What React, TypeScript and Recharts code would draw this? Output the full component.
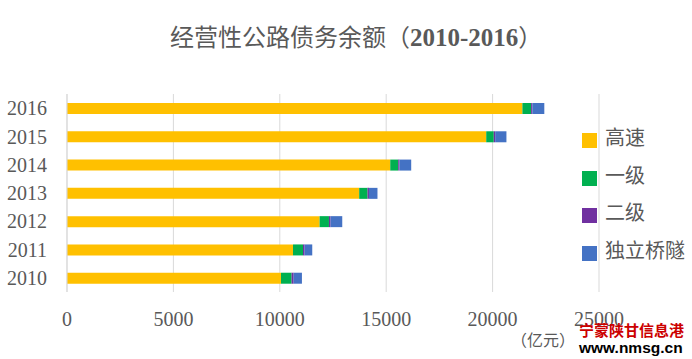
import React from 'react';
import { BarChart, Bar, XAxis, YAxis, CartesianGrid } from 'recharts';

const years = ['2010', '2011', '2012', '2013', '2014', '2015', '2016'];
const gaosu = [10055, 10620, 11870, 13730, 15190, 19700, 21400];
const yiji = [500, 470, 440, 395, 375, 355, 410];
const erji = [95, 75, 75, 65, 60, 65, 60];
const duli = [390, 360, 550, 400, 550, 530, 560];
const xTicks = [0, 5000, 10000, 15000, 20000, 25000];

const seriesNames = ['高速', '一级', '二级', '独立桥隧'];
const seriesColors = ['#FFC000', '#00B050', '#7030A0', '#4472C4'];
const seriesValues = [gaosu, yiji, erji, duli];

const data = years.map((year, i) => {
  const row: any = { year };
  seriesNames.forEach((name, s) => {
    row[name] = seriesValues[s][i];
  });
  return row;
});

const serif = '"Liberation Serif", "Times New Roman", serif';
const cjk = '"Noto Sans CJK SC", sans-serif';
const gray = '#595959';

export default function App() {
  return (
    <div style={{ position: 'absolute', left: 0, top: 0, width: 692, height: 359, background: '#fff', overflow: 'hidden' }}>
      <div style={{ position: 'absolute', left: 170, top: 23, fontSize: 24, lineHeight: '26px', color: gray, fontFamily: cjk, whiteSpace: 'nowrap' }}>
        经营性公路债务余额（<span style={{ fontFamily: serif, fontWeight: 'bold', fontSize: 25 }}>2010-2016</span>）
      </div>
      <BarChart
        width={692}
        height={359}
        data={data}
        layout="vertical"
        margin={{ top: 94, right: 93, bottom: 27, left: 0 }}
        barSize={11}
      >
        <CartesianGrid horizontal={false} stroke="#d9d9d9" />
        <XAxis
          type="number"
          domain={[0, 25000]}
          ticks={xTicks}
          interval={0}
          axisLine={false}
          tickLine={false}
          tickSize={0}
          tickMargin={20}
          height={40}
          tick={{ fill: gray, fontSize: 20, fontFamily: serif }}
        />
        <YAxis
          type="category"
          dataKey="year"
          reversed
          width={67}
          interval={0}
          tickLine={false}
          tickSize={0}
          tickMargin={20}
          axisLine={{ stroke: '#d9d9d9' }}
          tick={{ fill: gray, fontSize: 20, fontFamily: serif }}
        />
        {seriesNames.map((name, s) => (
          <Bar key={name} dataKey={name} stackId="a" fill={seriesColors[s]} isAnimationActive={false} />
        ))}
      </BarChart>
      <div style={{ position: 'absolute', left: 582, top: 122 }}>
        {seriesNames.map((name, s) => (
          <div key={name} style={{ display: 'flex', alignItems: 'flex-start', height: 37.5 }}>
            <span style={{ width: 15, height: 15, background: seriesColors[s], marginRight: 8, marginTop: 11 }} />
            <span style={{ fontFamily: cjk, fontSize: 20, color: gray, lineHeight: '30px' }}>{name}</span>
          </div>
        ))}
      </div>
      <div style={{ position: 'absolute', left: 511, top: 328, fontSize: 16, lineHeight: '22px', color: gray, fontFamily: cjk, whiteSpace: 'nowrap' }}>
        （亿元）
      </div>
      <div style={{ position: 'absolute', left: 579, top: 322, fontSize: 15, lineHeight: '16px', color: '#cc0000', fontFamily: cjk, fontWeight: 'bold', whiteSpace: 'nowrap' }}>
        宁蒙陕甘信息港
      </div>
      <div style={{ position: 'absolute', left: 579, top: 340, fontSize: 15.5, lineHeight: '16px', color: '#000', fontFamily: '"Liberation Sans", Arial, sans-serif', fontWeight: 'bold', whiteSpace: 'nowrap' }}>
        www.nmsg.cn
      </div>
    </div>
  );
}
